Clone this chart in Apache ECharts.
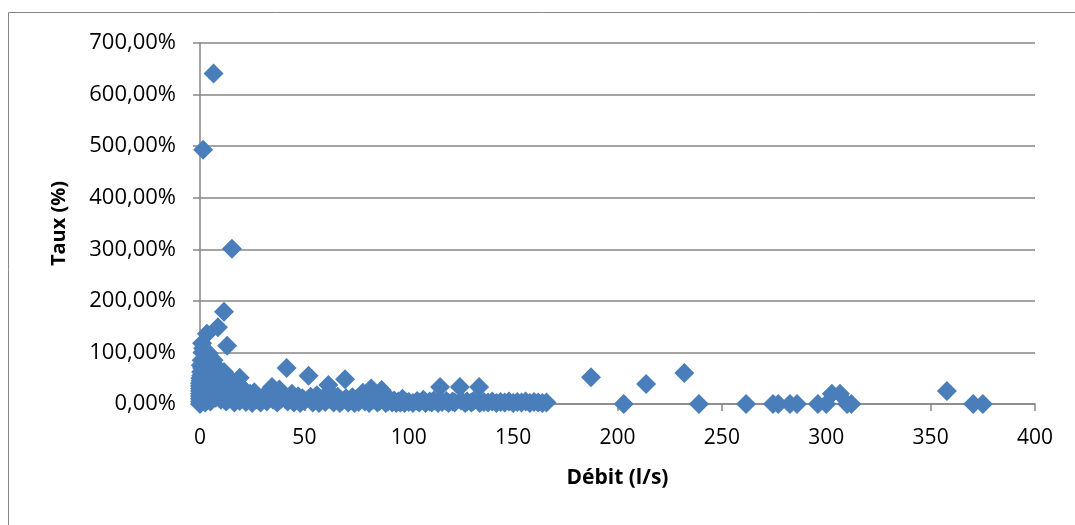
<!DOCTYPE html>
<html>
<head>
<meta charset="utf-8">
<script src="https://cdn.jsdelivr.net/npm/echarts@6/dist/echarts.min.js"></script>
<style>
html,body{margin:0;padding:0;background:#fff;}
#chart{width:1075px;height:525px;}
</style>
</head>
<body>
<div id="chart"></div>
<script>
// Débit (l/s)
const debit = [
6.5,1.5,15.3,11.5,8.6,3.3,1,13,2.5,5,3,7,1,0.5,4,19,
0,0,0,0,0,0,0,0,0,0.3,0.2,0.5,0.4,0.8,1.2,1.5,2,2.2,1.8,1.5,1,2.5,3,3.2,3.5,4,4.2,4.5,5,5.5,6,6.5,7,7.5,8,8.5,9,9.5,10,10.5,11,11.5,12,12.5,13,13.5,14,14.5,15,16,16.5,17,18,18.5,19,20,21,22,23,24,25,26,27,28,29,30,31,32,33,34.5,35,36,37,38,39,40,41.5,42,43,44,45,46,47,48,49,50,52,53,54,55,56,57,58,59,60,61.5,62,63,64,65,66,67,68,69.5,70,71,72,73,74,75,76,77,78,79,80,81,82,83,84,85,86,87,88,89,90,91,92,93,94,95,96,97,98,100,102,104,105,107,108,110,111,112,114,115,116,118,119,121,122,124.5,125,127,128,130,131,133.7,134,136,138,140,142,144,146,148,150,152,154,156,158,160,162,164,166,
187.3,203,213.7,232,239,261.6,274.5,277,282.6,286,296,300,302.7,306.6,310,312,357.8,370.4,375
];
// Taux (%)
const taux = [
641,493,301,179,149,136,118,113,95,90,80,72,70,55,60,51,
0,5,10,15,20,25,30,35,40,45,50,62,75,85,100,108,88,65,42,20,8,3,30,50,15,72,98,40,5,25,60,85,45,12,35,70,20,55,8,40,28,62,15,5,45,30,10,35,20,42,3,25,12,38,6,18,28,4,12,20,2,23,9,14,3,10,17,5,22,33,8,14,3,28,10,18,70,5,12,20,3,9,15,2,11,6,55,14,3,9,17,2,7,12,4,37,10,20,3,8,14,2,6,48,11,3,7,13,2,9,4,15,22,5,10,2,30,8,14,3,6,27,11,2,5,9,3,7,2,5,3,10,2,4,2,6,3,8,2,5,3,7,2,33,4,6,2,5,3,33,7,2,5,3,6,33,2,4,3,5,2,4,3,5,2,4,3,5,2,4,3,2,3,
52,0,39,60,0,0,0,0,0,0,0,0,20,20,0,0,25,0,0
];
const yTicks = [0,100,200,300,400,500,600,700];
const xTicks = [0,50,100,150,200,250,300,350,400];

const points = debit.map((d,i)=>[d,taux[i]]);
const gray = '#868686';
const chart = echarts.init(document.getElementById('chart'));
chart.setOption({
  animation:false,
  backgroundColor:'#fff',
  graphic:[{type:'rect',shape:{x:8.5,y:12.5,width:1100,height:560},style:{fill:'none',stroke:gray,lineWidth:1},silent:true}],
  grid:{left:200,right:40,top:43,bottom:121},
  xAxis:{
    type:'value',min:xTicks[0],max:xTicks[xTicks.length-1],interval:50,
    name:'Débit (l/s)',nameLocation:'middle',nameGap:64,
    nameTextStyle:{fontFamily:'Open Sans',fontWeight:'bold',fontSize:21,color:'#000'},
    axisLine:{lineStyle:{color:gray,width:1.5}},
    axisTick:{show:true,length:7,lineStyle:{color:gray,width:1.5}},
    axisLabel:{fontFamily:'Open Sans',fontSize:21,color:'#000',margin:24},
    splitLine:{show:false}
  },
  yAxis:{
    type:'value',min:yTicks[0],max:yTicks[yTicks.length-1],interval:100,
    name:'Taux (%)',nameLocation:'middle',nameGap:131,
    nameTextStyle:{fontFamily:'Open Sans',fontWeight:'bold',fontSize:20,color:'#000'},
    axisLine:{show:true,lineStyle:{color:gray,width:1.5}},
    axisTick:{show:true,length:7,lineStyle:{color:gray,width:1.5}},
    axisLabel:{fontFamily:'Open Sans',fontSize:22,color:'#000',margin:24,
      formatter:v=>v.toFixed(2).replace('.',',')+'%'},
    splitLine:{show:true,lineStyle:{color:gray,width:1.5}}
  },
  series:[{
    type:'scatter',symbol:'diamond',symbolSize:20,
    itemStyle:{color:'#4A7EBB',opacity:1},
    data:points
  }]
});
</script>
</body>
</html>
